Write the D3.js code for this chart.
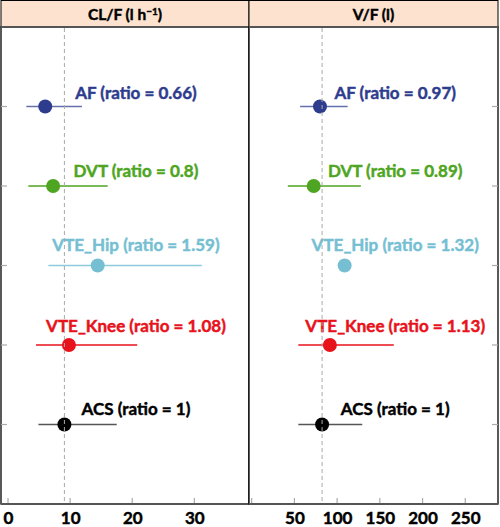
<!DOCTYPE html>
<html><head><meta charset="utf-8">
<script src="https://cdn.jsdelivr.net/npm/d3@7"></script>
<style>
body{margin:0;background:#fff;}
text{font-family:Lato,"Open Sans",sans-serif;font-weight:700;}
.heavy{stroke-width:0.45;paint-order:stroke;}
</style></head>
<body><svg id="c" width="500" height="527"></svg>
<script>
// ---- data ----
const groups = ["AF","DVT","VTE_Hip","VTE_Knee","ACS"];
const clPoint = [5.99, 7.26, 14.44, 9.81, 9.08];
const clLow   = [2.95, 3.27, 6.5, 4.5, 4.9];
const clHigh  = [11.9, 16.05, 31.2, 20.8, 17.5];
const clRatio = ["0.66","0.8","1.59","1.08","1"];
const vPoint  = [79.9, 72.6, 108.8, 91.5, 82.4];
const vLow    = [56.7, 42.3, null, 54.6, 54.6];
const vHigh   = [112.3, 127.8, null, 166.3, 129.4];
const vRatio  = ["0.97","0.89","1.32","1.13","1"];
const clRef = 9.08, vRef = 82.4;
const clTicks = [0,10,20,30];
const vTicks = [0,50,100,150,200,250];
const vTickLabels = ["","50","100","150","200","250"];
const titles = ["CL/F (l h", "V/F (l)"];

// ---- styles/layout ----
const colors = ["#2e3c8e","#4ea521","#76bfd3","#e8121b","#000000"];
const lineColors = ["#6570ad","#4ea521","#8ccbdc","#e8121b","#555555"];
const labelLift = [7.5, 9, 14.5, 13.5, 9.5];
const panelTop = 27, panelBottom = 504;

const svg = d3.select("#c");
const y = d3.scalePoint().domain(groups).range([panelTop,panelBottom]).padding(1);

const panels = [
  {x0:1, x1:249, domain:[-1.13,38.8], pts:clPoint, lo:clLow, hi:clHigh, ratio:clRatio, ref:clRef,
   ticks:clTicks, tickLabels:clTicks.map(String), labelAt:20.6, title:0, yTickSide:"left"},
  {x0:249, x1:498, domain:[-3.15,288.3], pts:vPoint, lo:vLow, hi:vHigh, ratio:vRatio, ref:vRef,
   ticks:vTicks, tickLabels:vTickLabels, labelAt:168, title:1, yTickSide:"right"}
];

panels.forEach(p=>{
  const x = d3.scaleLinear().domain(p.domain).range([p.x0,p.x1]);
  const g = svg.append("g");
  // strip
  g.append("rect").attr("x",p.x0).attr("y",0.5).attr("width",p.x1-p.x0).attr("height",panelTop-0.5)
    .attr("fill","#fde3cf").attr("stroke","#000").attr("stroke-width",1);
  const t = g.append("text").attr("class","heavy").attr("x",(p.x0+p.x1)/2).attr("y",20).attr("text-anchor","middle")
    .attr("font-size",15.5).attr("fill","#000").attr("stroke","#000");
  if(p.title===0){
    t.append("tspan").text(titles[0]);
    t.append("tspan").attr("dy",-5.5).attr("font-size",10).text("\u22121");
    t.append("tspan").attr("dy",5.5).text(")");
  } else t.text(titles[1]);
  // panel border
  g.append("rect").attr("x",p.x0).attr("y",panelTop).attr("width",p.x1-p.x0).attr("height",panelBottom-panelTop)
    .attr("fill","#fff").attr("stroke","#000").attr("stroke-width",1.3);
  g.append("line").attr("x1",p.x0).attr("x2",p.x1).attr("y1",panelTop).attr("y2",panelTop)
    .attr("stroke","#555").attr("stroke-width",2);
  // y ticks
  groups.forEach(gr=>{
    const xx = p.yTickSide==="left" ? [p.x0, p.x0+6] : [p.x1-6, p.x1];
    g.append("line").attr("x1",xx[0]).attr("x2",xx[1]).attr("y1",y(gr)).attr("y2",y(gr))
      .attr("stroke","#aaa").attr("stroke-width",1.2);
  });
  // x axis
  const ax = d3.axisBottom(x).tickValues(p.ticks).tickSize(0).tickFormat((d,i)=>p.tickLabels[i]);
  const axg = g.append("g").attr("transform",`translate(0,${panelBottom})`).call(ax);
  axg.select(".domain").remove();
  axg.selectAll("text").attr("class","heavy").attr("font-size",17).attr("fill","#000").attr("stroke","#000")
    .attr("dy",0).attr("y",19.5).style("font-family","Lato").style("font-weight",700);
  p.ticks.forEach(v=>{
    g.append("line").attr("x1",x(v)).attr("x2",x(v)).attr("y1",panelBottom-6).attr("y2",panelBottom)
      .attr("stroke","#aaa").attr("stroke-width",1.2);
  });
  g.append("line").attr("x1",p.x0).attr("x2",p.x1).attr("y1",panelBottom).attr("y2",panelBottom)
    .attr("stroke","#555").attr("stroke-width",2);
  // CI lines
  groups.forEach((gr,i)=>{
    if(p.lo[i]!=null){
      g.append("line").attr("x1",x(p.lo[i])).attr("x2",x(p.hi[i])).attr("y1",y(gr)).attr("y2",y(gr))
        .attr("stroke",lineColors[i]).attr("stroke-width",1.5);
    }
  });
  // points
  groups.forEach((gr,i)=>{
    g.append("circle").attr("cx",x(p.pts[i])).attr("cy",y(gr)).attr("r",7).attr("fill",colors[i]);
  });
  // labels
  groups.forEach((gr,i)=>{
    g.append("text").attr("class","heavy").attr("x",x(p.labelAt)).attr("y",y(gr)-labelLift[i]).attr("text-anchor","middle")
      .attr("font-size",17).attr("fill",colors[i]).attr("stroke",colors[i]).text(`${gr} (ratio = ${p.ratio[i]})`);
  });
  // reference line
  g.append("line").attr("x1",x(p.ref)).attr("x2",x(p.ref)).attr("y1",panelTop+1).attr("y2",panelBottom-1)
    .attr("stroke","#aaa").attr("stroke-width",1).attr("stroke-dasharray","4,3");
});
</script></body></html>
